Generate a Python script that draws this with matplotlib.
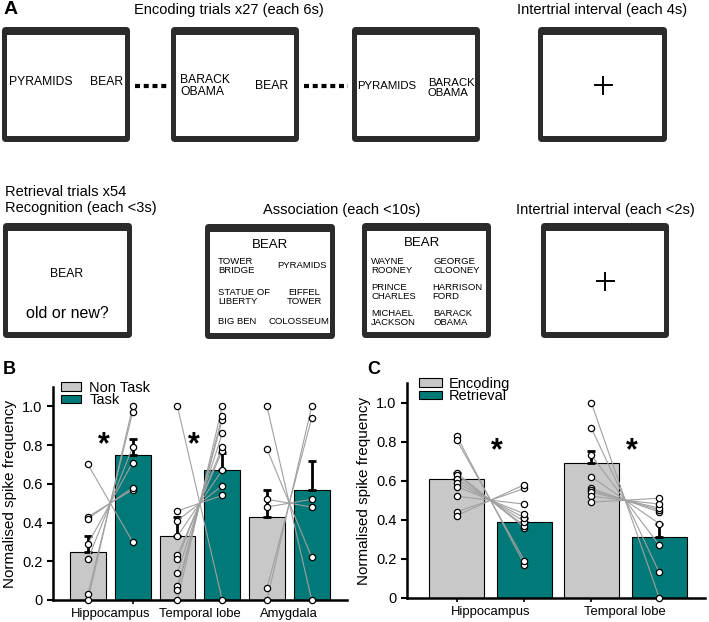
import matplotlib.pyplot as plt
from matplotlib.patches import FancyBboxPatch, Rectangle, Patch

plt.rcParams['font.family'] = ['Liberation Sans', 'DejaVu Sans']

# Painel B: Non Task x Task
regioes_b = ['Hippocampus', 'Temporal lobe', 'Amygdala']
media_nontask = [0.25, 0.33, 0.43]
erro_nontask = [0.08, 0.10, 0.14]
media_task = [0.75, 0.67, 0.57]
erro_task = [0.08, 0.09, 0.15]
pontos_nontask = [
    [0.70, 0.43, 0.42, 0.29, 0.21, 0.03, 0.0],
    [1.0, 0.46, 0.41, 0.33, 0.23, 0.21, 0.14, 0.07, 0.05, 0.0],
    [1.0, 0.78, 0.52, 0.48, 0.06, 0.0],
]
pontos_task = [
    [0.30, 0.57, 0.58, 0.71, 0.79, 0.97, 1.0],
    [0.0, 0.54, 0.59, 0.67, 0.77, 0.79, 0.86, 0.93, 0.95, 1.0],
    [0.0, 0.22, 0.48, 0.52, 0.94, 1.0],
]
signif_b = [True, True, False]

# Painel C: Encoding x Retrieval
regioes_c = ['Hippocampus', 'Temporal lobe']
media_enc = [0.61, 0.69]
erro_enc = [0.03, 0.06]
media_ret = [0.39, 0.31]
erro_ret = [0.02, 0.07]
pontos_enc = [
    [0.83, 0.81, 0.64, 0.63, 0.61, 0.59, 0.57, 0.52, 0.44, 0.42],
    [1.0, 0.87, 0.73, 0.62, 0.56, 0.55, 0.54, 0.52, 0.49],
]
pontos_ret = [
    [0.17, 0.19, 0.36, 0.37, 0.39, 0.41, 0.43, 0.48, 0.56, 0.58],
    [0.0, 0.13, 0.27, 0.38, 0.44, 0.45, 0.46, 0.48, 0.51],
]
signif_c = [True, True]

CINZA = '#c8c8c8'
VERDE = '#007a78'
MOLDURA = '#2b2b2b'

fig = plt.figure(figsize=(7.09, 6.22), dpi=100)

# ---------- Painel A (esquema das tarefas, em pixels) ----------
axa = fig.add_axes([0, 0, 1, 1])
axa.set_xlim(0, 709)
axa.set_ylim(622, 0)
axa.axis('off')


def desenhar_tela(x0, y0, x1, y1, topo=8, lado=5, baixo=6):
    axa.add_patch(FancyBboxPatch((x0, y0), x1 - x0, y1 - y0,
                                 boxstyle='round,pad=0,rounding_size=4',
                                 fc=MOLDURA, ec='none'))
    axa.add_patch(Rectangle((x0 + lado, y0 + topo), x1 - x0 - 2 * lado,
                            y1 - y0 - topo - baixo, fc='white', ec='none'))


def cruz(cx, cy, r=8.5):
    axa.plot([cx - r, cx + r], [cy, cy], color='black', lw=1.4)
    axa.plot([cx, cx], [cy - r, cy + r], color='black', lw=1.4)


telas = [(2, 27, 130, 142), (171, 27, 299, 142), (352, 27, 480, 142),
         (538, 27, 667, 142), (3, 223, 132, 338), (205, 224, 335, 339),
         (362, 223, 491, 338), (541, 223, 669, 338)]
for t in telas:
    desenhar_tela(*t)

for xa, xb in [(135, 168), (304, 348)]:
    axa.plot([xa, xb], [86, 86], color='black', lw=3, linestyle=(0, (1.2, 0.9)))

ft = 10.5
axa.text(4, 10, 'A', fontsize=14, fontweight='bold', va='center', ha='left')
axa.text(229, 10, 'Encoding trials x27 (each 6s)', fontsize=ft, ha='center', va='center')
axa.text(602, 10, 'Intertrial interval (each 4s)', fontsize=ft, ha='center', va='center')
axa.text(5, 192, 'Retrieval trials x54', fontsize=ft, ha='left', va='center')
axa.text(5, 208, 'Recognition (each <3s)', fontsize=ft, ha='left', va='center')
axa.text(342, 210, 'Association (each <10s)', fontsize=ft, ha='center', va='center')
axa.text(605, 210, 'Intertrial interval (each <2s)', fontsize=ft, ha='center', va='center')

fs = 8.7
axa.text(9, 82, 'PYRAMIDS', fontsize=fs, ha='left', va='center')
axa.text(123, 82, 'BEAR', fontsize=fs, ha='right', va='center')
axa.text(180, 86, 'BARACK\nOBAMA', fontsize=fs, ha='left', va='center', linespacing=1.0)
axa.text(255, 86, 'BEAR', fontsize=fs, ha='left', va='center')
axa.text(357, 86, 'PYRAMIDS', fontsize=fs - 0.5, ha='left', va='center')
axa.text(428, 88, 'BARACK\nOBAMA', fontsize=fs - 0.5, ha='left', va='center', linespacing=1.0)
cruz(603, 85)

axa.text(67, 274, 'BEAR', fontsize=fs, ha='center', va='center')
axa.text(67, 313, 'old or new?', fontsize=11.5, ha='center', va='center')

fs2 = 6.8
axa.text(270, 245, 'BEAR', fontsize=9.5, ha='center', va='center')
axa.text(218, 266, 'TOWER\nBRIDGE', fontsize=fs2, ha='left', va='center', linespacing=1.0)
axa.text(302, 266, 'PYRAMIDS', fontsize=fs2, ha='center', va='center')
axa.text(218, 297, 'STATUE OF\nLIBERTY', fontsize=fs2, ha='left', va='center', linespacing=1.0)
axa.text(304, 297, 'EIFFEL\nTOWER', fontsize=fs2, ha='center', va='center', linespacing=1.0)
axa.text(218, 322, 'BIG BEN', fontsize=fs2, ha='left', va='center')
axa.text(299, 322, 'COLOSSEUM', fontsize=fs2, ha='center', va='center')

axa.text(422, 243, 'BEAR', fontsize=9.5, ha='center', va='center')
axa.text(371, 266, 'WAYNE\nROONEY', fontsize=fs2, ha='left', va='center', linespacing=1.0)
axa.text(433, 266, 'GEORGE\nCLOONEY', fontsize=fs2, ha='left', va='center', linespacing=1.0)
axa.text(371, 292, 'PRINCE\nCHARLES', fontsize=fs2, ha='left', va='center', linespacing=1.0)
axa.text(432, 292, 'HARRISON\nFORD', fontsize=fs2, ha='left', va='center', linespacing=1.0)
axa.text(371, 318, 'MICHAEL\nJACKSON', fontsize=fs2, ha='left', va='center', linespacing=1.0)
axa.text(433, 318, 'BARACK\nOBAMA', fontsize=fs2, ha='left', va='center', linespacing=1.0)
cruz(605, 281)

axa.text(3, 369, 'B', fontsize=13, fontweight='bold', ha='left', va='center')
axa.text(367, 369, 'C', fontsize=13, fontweight='bold', ha='left', va='center')


# ---------- Paineis B e C ----------
def desenhar_painel(ax, regioes, med_a, err_a, med_b, err_b, pts_a, pts_b,
                    desloc, largura, signif, estrela_dx, estrela_y):
    centros = list(range(len(regioes)))
    for i, c in enumerate(centros):
        xa, xb = c - desloc, c + desloc
        ax.bar(xa, med_a[i], largura, color=CINZA, edgecolor='black', lw=0.8, zorder=1)
        ax.bar(xb, med_b[i], largura, color=VERDE, edgecolor='black', lw=0.8, zorder=1)
        ax.errorbar([xa], [med_a[i]], yerr=[[0], [err_a[i]]], fmt='none', ecolor='black',
                    elinewidth=2, capsize=3, capthick=2, zorder=2)
        ax.errorbar([xb], [med_b[i]], yerr=[[0], [err_b[i]]], fmt='none', ecolor='black',
                    elinewidth=2, capsize=3, capthick=2, zorder=2)
        for pa, pb in zip(pts_a[i], pts_b[i]):
            ax.plot([xa, xb], [pa, pb], color='#a0a0a0', lw=0.8, zorder=3)
        ax.plot([xa] * len(pts_a[i]), pts_a[i], 'o', mfc='white', mec='black',
                ms=4.5, mew=0.9, zorder=4, clip_on=False)
        ax.plot([xb] * len(pts_b[i]), pts_b[i], 'o', mfc='white', mec='black',
                ms=4.5, mew=0.9, zorder=4, clip_on=False)
        if signif[i]:
            ax.text(c + estrela_dx, estrela_y, '*', fontsize=22, fontweight='bold',
                    ha='center', va='center')
    ax.set_ylim(0, 1.1)
    ax.set_yticks([0, 0.2, 0.4, 0.6, 0.8, 1.0])
    ax.set_yticklabels(['0', '0.2', '0.4', '0.6', '0.8', '1.0'], fontsize=10.5)
    ax.set_xticks(centros)
    ax.set_xticklabels(regioes, fontsize=9.4)
    ax.set_xticks([c + s * desloc for c in centros for s in (-1, 1)], minor=True)
    ax.tick_params(axis='x', which='major', length=0, pad=6)
    ax.tick_params(axis='x', which='minor', length=3, width=1.2)
    ax.tick_params(axis='y', length=4, width=1.5, direction='out')
    for lado in ['top', 'right']:
        ax.spines[lado].set_visible(False)
    for lado in ['left', 'bottom']:
        ax.spines[lado].set_linewidth(1.8)
    ax.set_ylabel('Normalised spike frequency', fontsize=11)
    ax.patch.set_alpha(0)


axb = fig.add_axes([0.0748, 0.0354, 0.4147, 0.3424])
desenhar_painel(axb, regioes_b, media_nontask, erro_nontask, media_task, erro_task,
                pontos_nontask, pontos_task, 0.25, 0.40, signif_b, -0.07, 0.80)
axb.set_xlim(-0.64, 2.645)
axb.legend(handles=[Patch(fc=CINZA, ec='black', lw=0.8, label='Non Task'),
                    Patch(fc=VERDE, ec='black', lw=0.8, label='Task')],
           loc='upper left', bbox_to_anchor=(0.027, 1.03), frameon=False, fontsize=10.5,
           handlelength=1.4, handleheight=0.5, labelspacing=-0.1, handletextpad=0.55,
           borderpad=0, borderaxespad=0)

axc = fig.add_axes([0.574, 0.039, 0.420, 0.345])
desenhar_painel(axc, regioes_c, media_enc, erro_enc, media_ret, erro_ret,
                pontos_enc, pontos_ret, 0.252, 0.407, signif_c, 0.05, 0.75)
axc.set_xlim(-0.62, 1.59)
axc.legend(handles=[Patch(fc=CINZA, ec='black', lw=0.8, label='Encoding'),
                    Patch(fc=VERDE, ec='black', lw=0.8, label='Retrieval')],
           loc='upper left', bbox_to_anchor=(0.04, 1.03), frameon=False, fontsize=10.5,
           handlelength=1.6, handleheight=0.5, labelspacing=-0.1, handletextpad=0.45,
           borderpad=0, borderaxespad=0)

fig.savefig('out.png', dpi=100)
